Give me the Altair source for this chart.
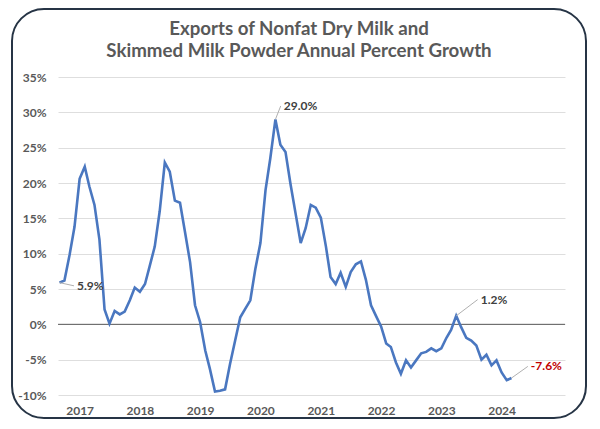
import altair as alt
import pandas as pd

# Monthly annual percent growth, Sept 2016 .. Mar 2024
growth = [
    5.9, 6.2, 9.8, 13.8, 20.6, 22.3, 19.5, 16.9, 12.0, 2.1,
    0.1, 1.9, 1.4, 1.8, 3.4, 5.2, 4.6, 5.7, 8.2, 11.0,
    16.0, 22.9, 21.6, 17.5, 17.2, 13.1, 8.8, 2.7, 0.3, -3.7,
    -6.3, -9.5, -9.4, -9.2, -5.6, -2.3, 1.0, 2.2, 3.4, 7.8,
    11.5, 19.0, 23.5, 29.0, 25.4, 24.4, 19.9, 15.7, 11.5, 13.6,
    16.9, 16.5, 15.1, 11.0, 6.7, 5.7, 7.3, 5.3, 7.4, 8.5,
    8.9, 6.3, 2.7, 1.2, -0.3, -2.7, -3.2, -5.4, -7.0, -5.1,
    -6.1, -5.1, -4.1, -3.9, -3.4, -3.8, -3.4, -1.9, -0.8, 1.2,
    -0.4, -1.9, -2.3, -3.0, -5.0, -4.3, -5.8, -5.1, -6.8, -7.9,
    -7.6,
]
first_month = "2016-09-01"

title_text = "Exports of Nonfat Dry Milk and\nSkimmed Milk Powder Annual Percent Growth"
year_ticks = [2017, 2018, 2019, 2020, 2021, 2022, 2023, 2024]
y_ticks = [-10, -5, 0, 5, 10, 15, 20, 25, 30, 35]

ann_dates = ["2016-09-01", "2020-04-01", "2023-04-01", "2024-03-01"]
ann_values = [5.9, 29.0, 1.2, -7.6]
ann_labels = ["5.9%", "29.0%", "1.2%", "-7.6%"]
ann_label_dates = ["2016-11-28", "2020-05-03", "2023-08-09", "2024-06-08"]
ann_label_values = [5.45, 30.9, 3.5, -5.95]
ann_colors = ["#404040", "#404040", "#404040", "#c00000"]

dates = pd.date_range(first_month, periods=len(growth), freq="MS").strftime("%Y-%m-%d")
df = pd.DataFrame({"date": list(dates), "growth": growth})
ann = pd.DataFrame({
    "date": ann_dates, "value": ann_values, "label": ann_labels,
    "ldate": ann_label_dates, "lvalue": ann_label_values, "color": ann_colors,
})

FONT = "Lato"
x_scale = alt.Scale(type="utc",
                    domain=[alt.DateTime(year=2016, month=8, date=23, utc=True),
                            alt.DateTime(year=2025, month=1, date=19, utc=True)])
y_scale = alt.Scale(domain=[-10, 35], nice=False, zero=False)

x_axis = alt.Axis(
    values=[alt.DateTime(year=y, month=1, date=1, utc=True) for y in year_ticks],
    labelExpr="utcFormat(datum.value, '%Y')",
    title=None, grid=False, ticks=False, domain=False,
    labelFont=FONT, labelFontSize=12, labelFontWeight="bold", labelColor="#595959",
    labelPadding=10,
)
y_axis = alt.Axis(
    values=y_ticks, labelExpr="datum.value + '%'", title=None,
    grid=True, gridColor="#dedede", gridWidth=1, ticks=False, domain=False,
    labelFont=FONT, labelFontSize=12, labelFontWeight="bold", labelColor="#595959",
    labelPadding=12,
)

one_row = pd.DataFrame({"k": [0]})

title = alt.Chart(one_row).mark_text(
    text=title_text, lineBreak="\n", lineHeight=22, font=FONT, fontSize=18.7,
    fontWeight="bold", color="#595959", align="center", baseline="alphabetic",
).encode(x=alt.value(241), y=alt.value(-42.5))

zero = alt.Chart(pd.DataFrame({"y": [0]})).mark_rule(color="#5a5a5a", strokeWidth=1).encode(
    y=alt.Y("y:Q", scale=y_scale, axis=y_axis)
)

line = alt.Chart(df).mark_line(color="#4a77c0", strokeWidth=2.6).encode(
    x=alt.X("date:T", scale=x_scale, axis=x_axis),
    y=alt.Y("growth:Q", scale=y_scale, axis=y_axis),
)

leaders = alt.Chart(ann).mark_rule(color="#b0b0b0", strokeWidth=1).encode(
    x=alt.X("date:T", scale=x_scale, axis=x_axis),
    y=alt.Y("value:Q", scale=y_scale, axis=y_axis),
    x2="ldate:T",
    y2="lvalue:Q",
)

labels = alt.Chart(ann).mark_text(
    align="left", baseline="middle", dx=3, font=FONT, fontSize=12, fontWeight="bold"
).encode(
    x=alt.X("ldate:T", scale=x_scale, axis=x_axis),
    y=alt.Y("lvalue:Q", scale=y_scale, axis=y_axis),
    text="label:N",
    color=alt.Color("color:N", scale=None),
)

frame = alt.Chart(one_row).mark_rect(
    filled=False, stroke="#263445", strokeWidth=2, cornerRadius=32
).encode(
    x=alt.value(-46), x2=alt.value(528), y=alt.value(-68), y2=alt.value(341)
)

chart = alt.layer(zero, line, leaders, labels, title, frame).properties(
    width=507, height=318,
    padding={"left": 50, "top": 69, "right": 27, "bottom": 26},
    autosize=alt.AutoSizeParams(type="none"),
).configure_view(stroke=None)

chart.save("out.html", embed_options={"renderer": "svg", "actions": False})
